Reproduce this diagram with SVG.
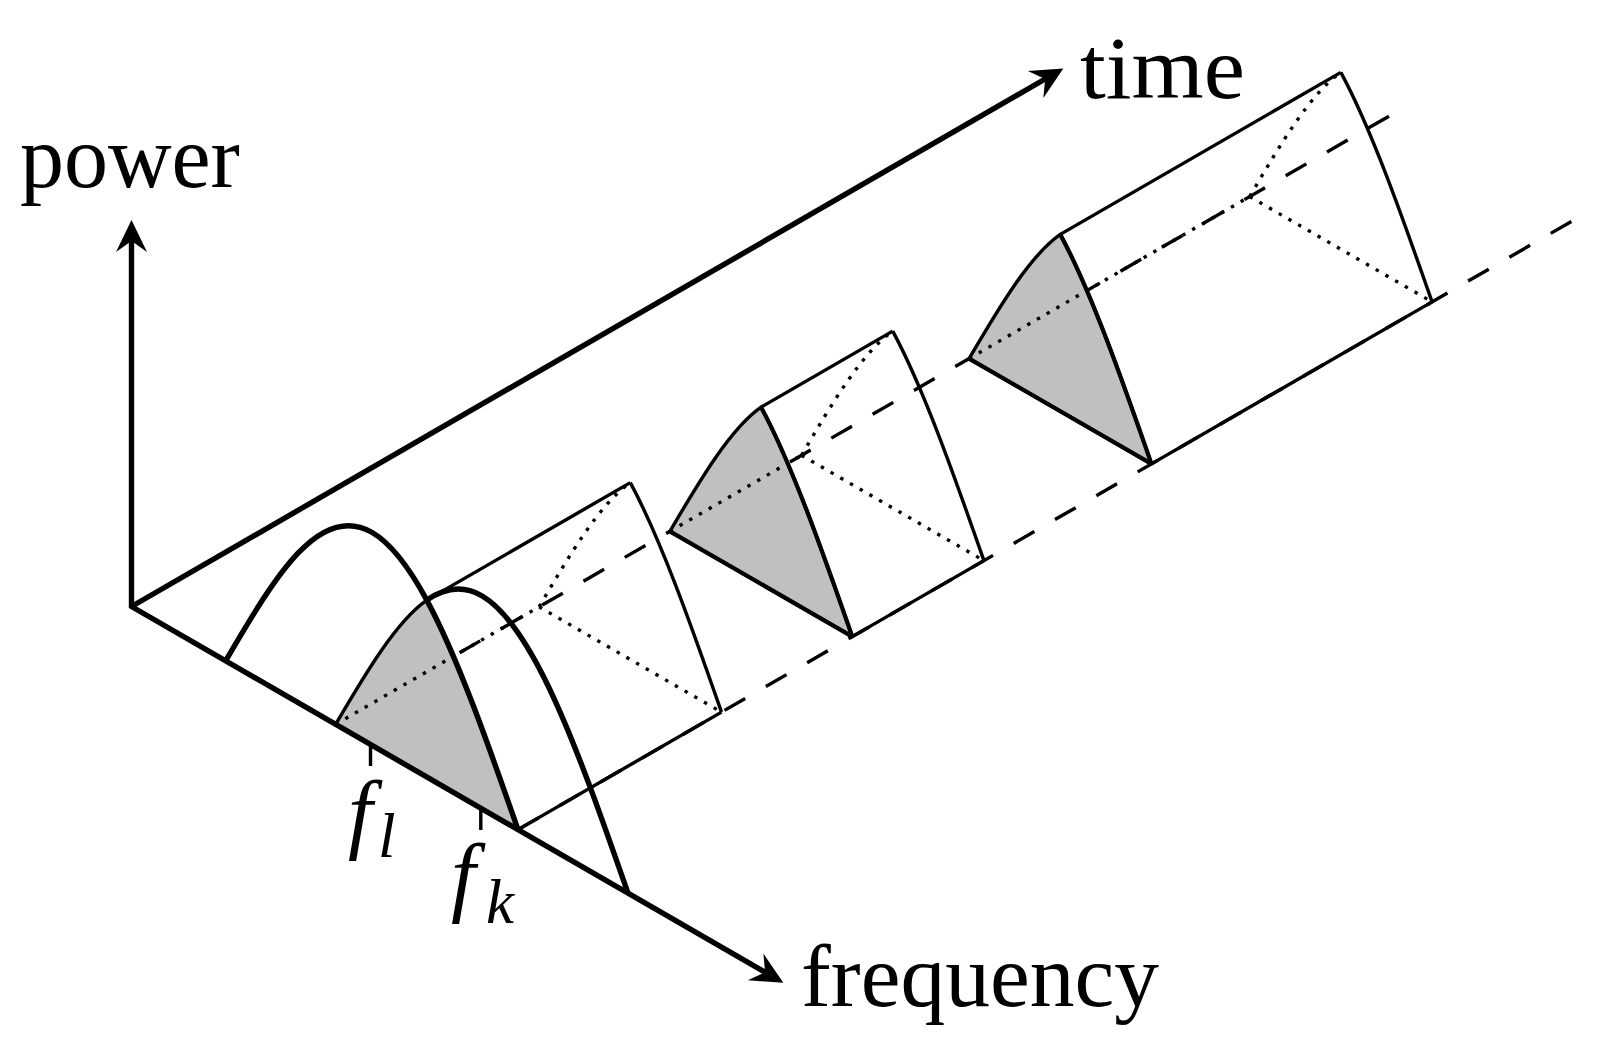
<svg xmlns="http://www.w3.org/2000/svg" xmlns:xlink="http://www.w3.org/1999/xlink" width="1612" height="1052" viewBox="0 0 1612 1052">
<style>
.thk{fill:none;stroke:#000;stroke-width:5.4}
.thin{fill:none;stroke:#000;stroke-width:3.4}
.semi{fill:none;stroke:#000;stroke-width:4.2}
.dot{fill:none;stroke:#000;stroke-width:3.4;stroke-dasharray:3.4 7.8}
.dash{fill:none;stroke:#000;stroke-width:3.4;stroke-dasharray:23.85 23.85}
.face{fill:#c0c0c0;stroke:#000;stroke-width:3.4;stroke-linejoin:round}
text{font-family:"Liberation Serif",serif;fill:#000}
.it{font-style:italic}
</style>
<defs>
<marker id="arr" markerUnits="userSpaceOnUse" markerWidth="36" markerHeight="36" viewBox="-34 -18 36 36" refX="-20" refY="0" orient="auto-start-reverse" overflow="visible">
<path d="M0,0 L-32,-15.5 L-21,0 L-32,15.5 Z" fill="#000"/>
</marker>
<path id="crvL" d="M335.62,724.35 C366.01,672.33 396.42,621.34 426.81,600.13"/>
<path id="crvR" d="M426.81,600.13 C457.19,656.43 487.6,742.53 518,829.65"/>
<path id="face" d="M335.62,724.35 C366.01,672.33 396.42,621.34 426.81,600.13 C457.19,656.43 487.6,742.53 518,829.65 Z"/>
</defs>

<g id="guides">
<path class="dash" d="M335.62,724.35 L1389.54,115.85"/>
<path class="dash" d="M518,829.65 L1571.92,221.15"/>
</g>

<g id="prism1">
<use href="#face" class="face"/>
<path class="dot" d="M335.62,724.35 l203.51,-117.5"/>
<g transform="translate(203.51,-117.5)">
<use href="#crvL" class="dot"/>
<path class="dot" d="M335.62,724.35 L518,829.65"/>
<use href="#crvR" class="thin"/>
</g>
<path class="thin" d="M426.81,600.13 l203.51,-117.5 M518,829.65 l203.51,-117.5"/>
</g>

<g id="prism2" transform="translate(334.28,-193)">
<use href="#face" class="face"/>
<path class="dot" d="M335.62,724.35 l131.63,-76"/>
<g transform="translate(131.63,-76)">
<use href="#crvL" class="dot"/>
<path class="dot" d="M335.62,724.35 L518,829.65"/>
<use href="#crvR" class="thin"/>
</g>
<path class="thin" d="M426.81,600.13 l131.63,-76 M518,829.65 l131.63,-76"/>
<use href="#crvR" class="semi"/>
<path class="semi" d="M335.62,724.35 L518,829.65"/>
</g>

<g id="prism3" transform="translate(633.48,-365.75)">
<use href="#face" class="face"/>
<path class="dot" d="M335.62,724.35 l280.58,-162"/>
<g transform="translate(280.58,-162)">
<use href="#crvL" class="dot"/>
<path class="dot" d="M335.62,724.35 L518,829.65"/>
<use href="#crvR" class="thin"/>
</g>
<path class="thin" d="M426.81,600.13 l280.58,-162 M518,829.65 l280.58,-162"/>
<use href="#crvR" class="semi"/>
<path class="semi" d="M335.62,724.35 L518,829.65"/>
</g>

<g id="spectrum1">
<path class="thk" d="M225.63,660.85 C249.99,619.16 274.36,577.81 298.72,552.44 C323.08,527.08 347.45,518.19 371.82,532.25 C390.14,542.83 408.47,566.17 426.8,600.12 C457.19,656.43 487.6,742.53 518,829.65"/>
</g>
<g id="spectrum2">
<path class="thk" d="M426.81,600.13 C445.14,587.34 463.47,585.17 481.8,595.75 C506.16,609.82 530.53,646.85 554.89,700.34 C579.25,753.84 603.62,823.33 627.98,893.15"/>
</g>

<g id="axes">
<path class="thk" d="M131.5,240 L131.5,606.5 L766,972.8" stroke-linejoin="miter" marker-start="url(#arr)" marker-end="url(#arr)"/>
<path class="thk" d="M131.5,606.5 L1046,78.5" marker-end="url(#arr)"/>
</g>

<g id="ticks">
<path class="thin" stroke-width="3" d="M370.5,744.5 V766 M480.8,808.2 V830"/>
</g>

<g id="labels">
<text x="20" y="187.3" font-size="88">power</text>
<text x="1080" y="98.3" font-size="88" textLength="165" lengthAdjust="spacingAndGlyphs">time</text>
<text x="801" y="1006" font-size="88" textLength="358" lengthAdjust="spacingAndGlyphs">frequency</text>
<text x="348" y="842" font-size="88" class="it">f</text>
<text x="378" y="857" font-size="63" class="it">l</text>
<text x="451" y="905" font-size="88" class="it">f</text>
<text x="486" y="922.7" font-size="63" class="it">k</text>
</g>
</svg>
